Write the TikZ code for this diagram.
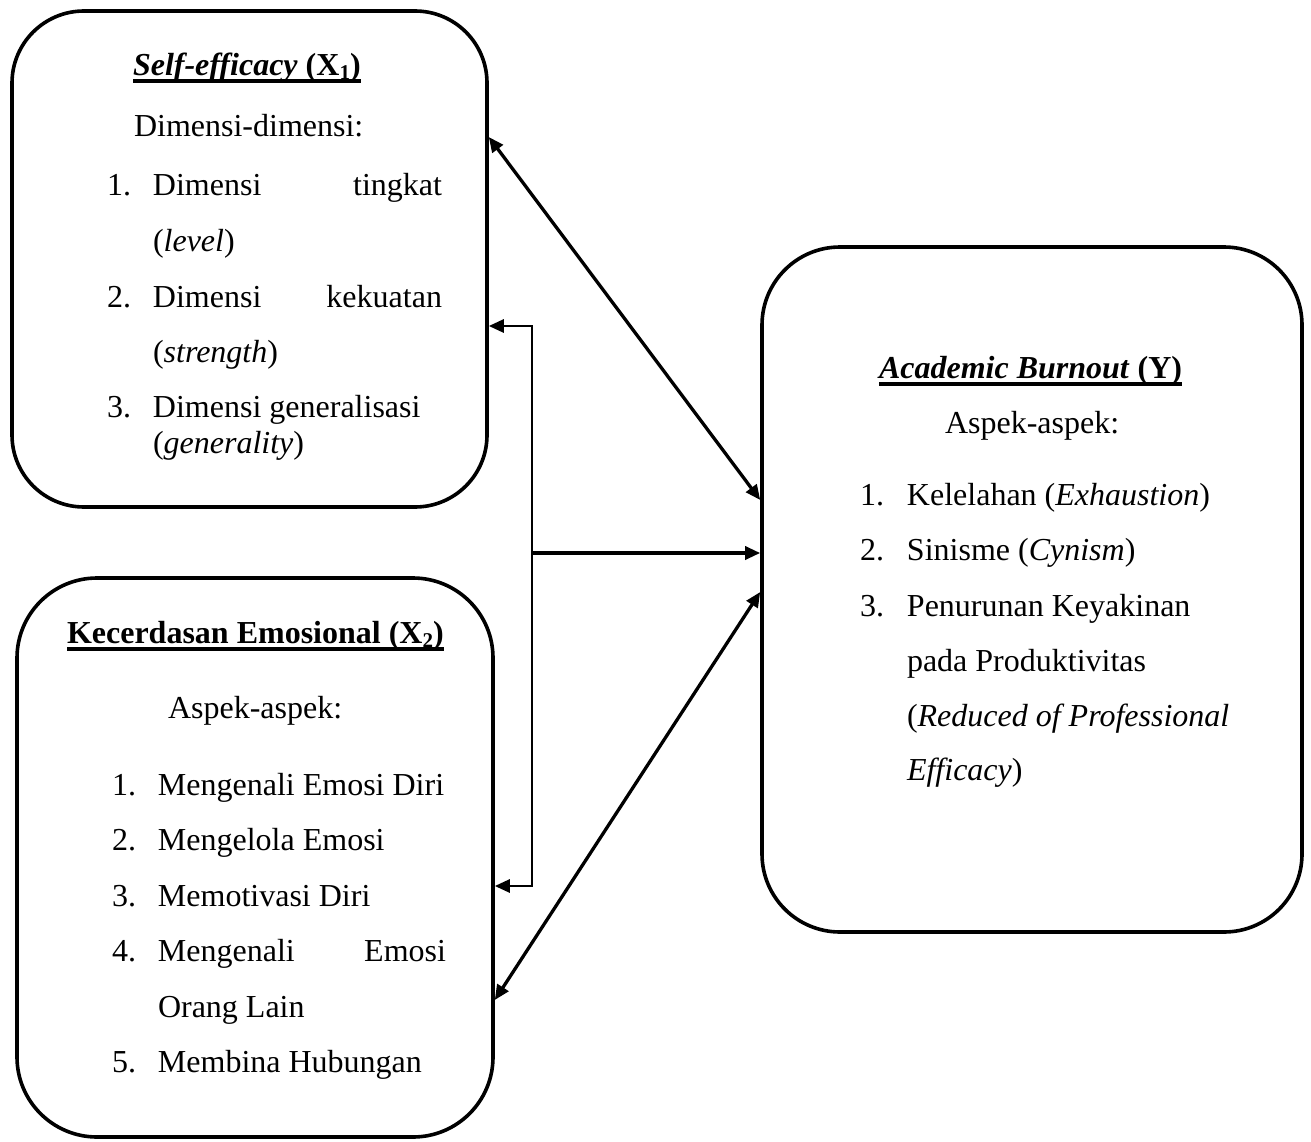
\documentclass[tikz,border=0pt]{standalone}
\usepackage{fontspec}
\setmainfont{Liberation Serif}
\usetikzlibrary{arrows.meta}
\begin{document}
\begin{tikzpicture}[x=1pt,y=-1pt,
  box/.style={draw, line width=3.6pt, rounded corners=#1, inner sep=0pt},
  txt/.style={inner sep=0pt, outer sep=0pt, anchor=base west, font=\fontsize{32}{38}\selectfont},
  uline/.style={line width=3.2pt},
  conn/.style={line width=3.3pt},
  bconn/.style={line width=2.8pt},
  tip/.tip={Triangle[length=15pt,width=13pt]}
]
\useasboundingbox (0,0) rectangle (1311,1142);
\newcommand{\numb}[1]{\makebox[46pt][l]{#1}}
\newcommand{\subd}[1]{\raisebox{-4pt}{\fontsize{21}{21}\selectfont\bfseries #1}}

% boxes
\node[box=72pt, minimum width=475pt, minimum height=496pt] (b1) at (249.5,259) {};
\node[box=80pt, minimum width=476pt, minimum height=559pt] (b2) at (255,857.5) {};
\node[box=78pt, minimum width=540pt, minimum height=685pt] (b3) at (1032,589.5) {};

% box 1 text
\node[txt] (t1) at (133,76) {\textbf{\textit{Self-efficacy} (X\subd{1})}};
\draw[uline] ([yshift=-5pt]t1.base west) -- ([yshift=-5pt]t1.base east);
\node[txt] (t1h) at (134,137) {Dimensi-dimensi:};
\node[txt] (t1i1) at (107,196) {\numb{1.}\hbox to 289pt{Dimensi\hfill tingkat}};
\node[txt] (t1i1b) at (153,251) {(\textit{level})};
\node[txt] (t1i2) at (107,307) {\numb{2.}\hbox to 289pt{Dimensi\hfill kekuatan}};
\node[txt] (t1i2b) at (153,362) {(\textit{strength})};
\node[txt] (t1i3) at (107,417) {\numb{3.}Dimensi generalisasi};
\node[txt] (t1i3b) at (153,453) {(\textit{generality})};

% box 2 text
\node[txt] (t2) at (67,643) {\textbf{Kecerdasan Emosional (X\subd{2})}};
\draw[uline] ([yshift=-6pt]t2.base west) -- ([yshift=-6pt]t2.base east);
\node[txt] (t2h) at (168,718) {Aspek-aspek:};
\node[txt] (t2i1) at (112,795) {\numb{1.}Mengenali Emosi Diri};
\node[txt] (t2i2) at (112,850.5) {\numb{2.}Mengelola Emosi};
\node[txt] (t2i3) at (112,906) {\numb{3.}Memotivasi Diri};
\node[txt] (t2i4) at (112,961.5) {\numb{4.}\hbox to 288pt{Mengenali\hfill Emosi}};
\node[txt] (t2i4b) at (158,1017) {Orang Lain};
\node[txt] (t2i5) at (112,1072.5) {\numb{5.}Membina Hubungan};

% box 3 text
\node[txt] (t3) at (879,378) {\textbf{\textit{Academic Burnout} (Y)}};
\draw[uline] ([yshift=-6pt]t3.base west) -- ([yshift=-6pt]t3.base east);
\node[txt] (t3h) at (945,433) {Aspek-aspek:};
\node[txt] (t3i1) at (860,505) {\makebox[47pt][l]{1.}Kelelahan (\textit{Exhaustion})};
\node[txt] (t3i2) at (860,560) {\makebox[47pt][l]{2.}Sinisme (\textit{Cynism})};
\node[txt] (t3i3) at (860,616) {\makebox[47pt][l]{3.}Penurunan Keyakinan};
\node[txt] (t3i3b) at (907,671) {pada Produktivitas};
\node[txt] (t3i3c) at (907,726) {(\textit{Reduced of Professional}};
\node[txt] (t3i3d) at (907,780) {\textit{Efficacy})};

% connectors
\coordinate (jt) at (532,326);
\coordinate (jm) at (532,553);
\coordinate (jb) at (532,886);
\draw[conn, tip-tip] (b1.east |- 0,137) -- (b3.west |- 0,500);
\draw[bconn, tip-tip] (b1.east |- jt) -- (jt) -- (jb) -- (b2.east |- jb);
\draw[conn, -tip] (jm) -- (b3.west |- jm);
\draw[conn, tip-tip] (b3.west |- 0,592) -- (b2.east |- 0,1000);
\end{tikzpicture}
\end{document}
